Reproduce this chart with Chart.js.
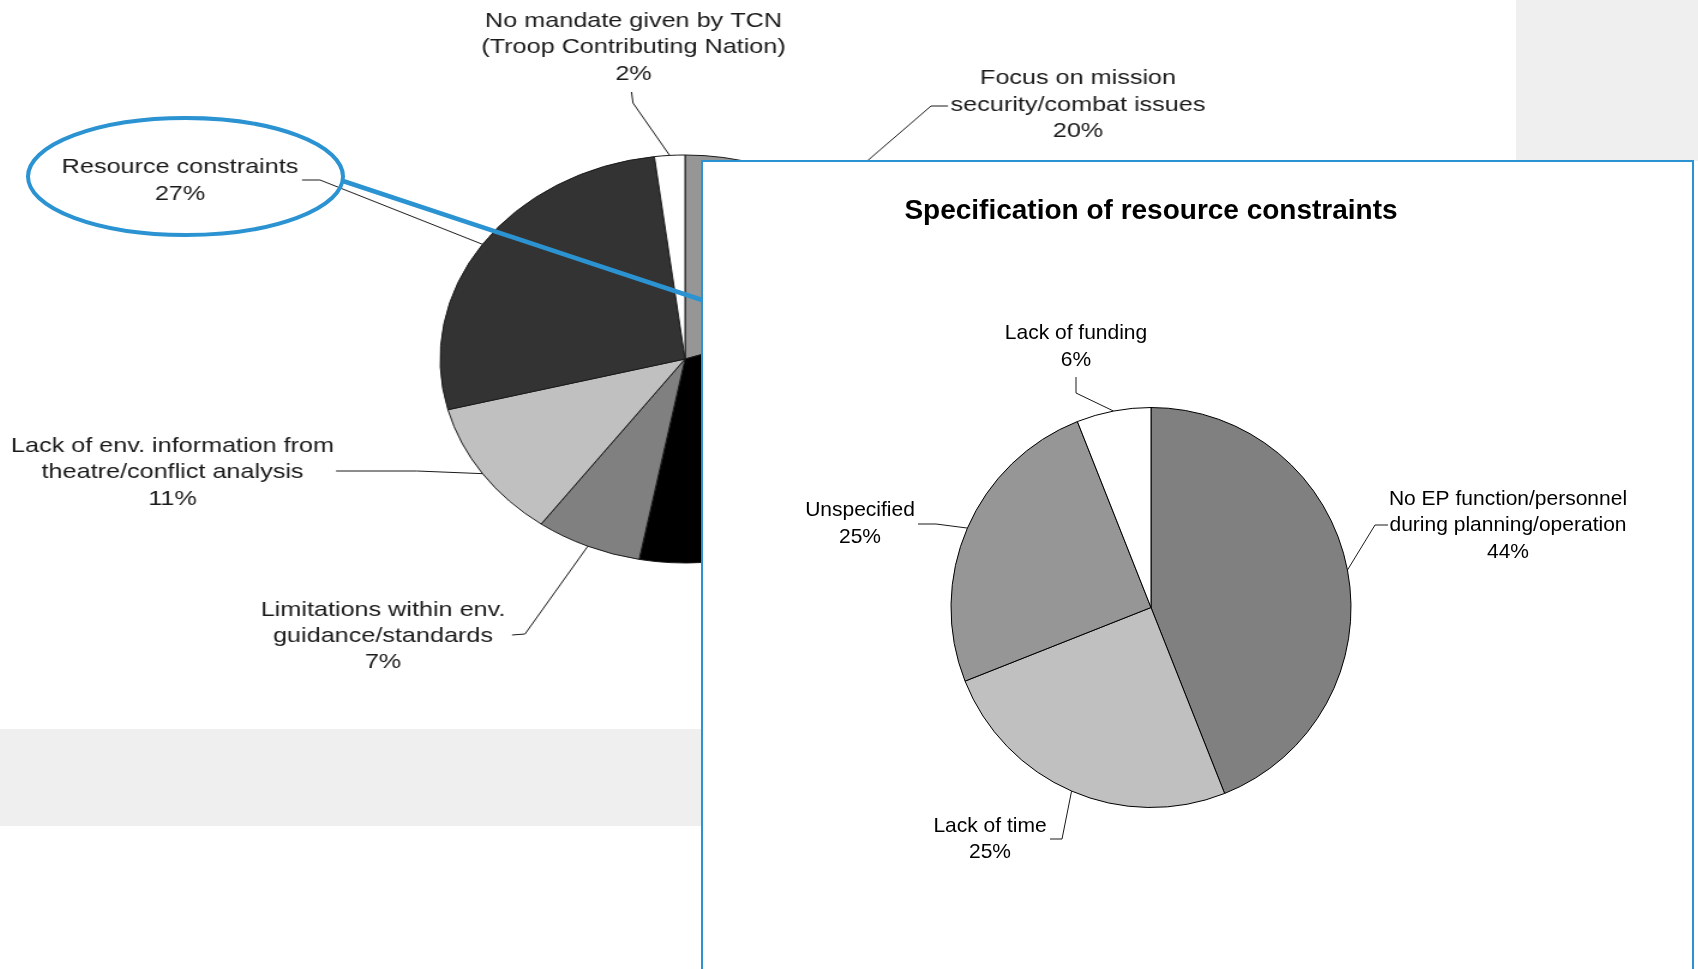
<!DOCTYPE html>
<html>
<head>
<meta charset="utf-8">
<script src="https://cdn.jsdelivr.net/npm/chart.js@4.4.1/dist/chart.umd.min.js"></script>
<style>
  html, body { margin: 0; padding: 0; background: #ffffff; }
  body { width: 1698px; height: 969px; overflow: hidden; position: relative; font-family: "Liberation Sans", Arial, sans-serif; }
  #greyRight { position: absolute; left: 1516px; top: 0; width: 182px; height: 161px; background: #efefef; z-index: 0; }
  #greyBand { position: absolute; left: 0; top: 729px; width: 702px; height: 97px; background: #efefef; z-index: 0; }
  #mainWrap { position: absolute; left: 115px; top: 0; width: 1100px; height: 728px; transform: scaleX(1.2); transform-origin: 570px 0; z-index: 1; }
  #annot { position: absolute; left: 0; top: 0; width: 1698px; height: 969px; z-index: 2; pointer-events: none; }
  #insetBox { position: absolute; left: 701px; top: 160px; width: 989px; height: 820px; border: 2px solid #2b93d1; background: #ffffff; overflow: hidden; z-index: 3; }
  #insetWrap { position: absolute; left: -42px; top: 0; width: 980px; height: 850px; }
</style>
</head>
<body>
<div id="greyRight"></div>
<div id="greyBand"></div>
<div id="mainWrap"><canvas id="mainChart" width="1100" height="728"></canvas></div>
<svg id="annot" width="1698" height="969">
  <ellipse cx="185.5" cy="176.5" rx="157.5" ry="58.5" fill="none" stroke="#2b93d1" stroke-width="4"/>
  <line x1="343" y1="181" x2="702" y2="300" stroke="#2b93d1" stroke-width="4.5"/>
</svg>
<div id="insetBox"><div id="insetWrap"><canvas id="insetChart" width="980" height="850"></canvas></div></div>

<script>
// ---------------- DATA ----------------
const mainCategories = [
  'Focus on mission security/combat issues',
  'Other reasons (covered by inset)',
  'Limitations within env. guidance/standards',
  'Lack of env. information from theatre/conflict analysis',
  'Resource constraints',
  'No mandate given by TCN (Troop Contributing Nation)'
];
const mainValues = [20, 33, 7, 11, 27, 2];
const mainLabelLines = [
  ['Focus on mission', 'security/combat issues'],
  null,
  ['Limitations within env.', 'guidance/standards'],
  ['Lack of env. information from', 'theatre/conflict analysis'],
  ['Resource constraints'],
  ['No mandate given by TCN', '(Troop Contributing Nation)']
];

const insetTitle = 'Specification of resource constraints';
const insetCategories = [
  'No EP function/personnel during planning/operation',
  'Lack of time',
  'Unspecified',
  'Lack of funding'
];
const insetValues = [44, 25, 25, 6];
const insetLabelLines = [
  ['No EP function/personnel', 'during planning/operation'],
  ['Lack of time'],
  ['Unspecified'],
  ['Lack of funding']
];

// ---------------- STYLES / LAYOUT ----------------
const mainColors = ['#969696', '#000000', '#808080', '#c0c0c0', '#333333', '#ffffff'];
const insetColors = ['#808080', '#c0c0c0', '#969696', '#ffffff'];
const FONT = '"Liberation Sans", Arial, sans-serif';

const MAIN_PAGE_CX = 685;   // page x of main pie centre (after stretch)
const MAIN_STRETCH = 1.2;
const MAIN_TOP = 0;
// label layouts in page coordinates
const mainLabelLayout = [
  { tx: 1078, ty: [78.5, 105, 131.5], path: [[948, 106], [931, 106]] },
  null,
  { tx: 383, ty: [610, 636.5, 662], path: [[512, 635], [525, 634]] },
  { tx: 172.5, ty: [446, 472.5, 499], path: [[336, 471], [417, 471]] },
  { tx: 180, ty: [167, 194], path: [[302, 180], [320, 180]] },
  { tx: 633.5, ty: [21, 47.5, 74], path: [[631.5, 92], [633, 103]] }
];

const INSET_LEFT = 661, INSET_TOP = 162;
const insetLabelLayout = [
  { tx: 1508, ty: [499, 525.5, 552], path: [[1388, 525], [1375, 525]] },
  { tx: 990, ty: [826, 852.5], path: [[1050, 839], [1062, 839]] },
  { tx: 860, ty: [510.5, 537], path: [[918, 524], [936, 524]] },
  { tx: 1076, ty: [333, 360], path: [[1076, 377], [1076, 393]] }
];

function makeLabelPlugin(id, lines, values, layout, toCanvas, fontSize, color) {
  return {
    id: id,
    afterDatasetsDraw(chart) {
      const ctx = chart.ctx;
      const meta = chart.getDatasetMeta(0);
      ctx.save();
      meta.data.forEach((el, i) => {
        const lay = layout[i];
        if (!lay || !lines[i]) return;
        const p = el.getProps(['x', 'y', 'startAngle', 'endAngle', 'outerRadius'], true);
        const mid = (p.startAngle + p.endAngle) / 2;
        const ex = p.x + Math.cos(mid) * p.outerRadius;
        const ey = p.y + Math.sin(mid) * p.outerRadius;
        // leader line
        ctx.beginPath();
        ctx.strokeStyle = '#1a1a1a';
        ctx.lineWidth = 1;
        lay.path.forEach((pt, k) => {
          const c = toCanvas(chart, pt[0], pt[1]);
          if (k === 0) ctx.moveTo(c[0], c[1]); else ctx.lineTo(c[0], c[1]);
        });
        ctx.lineTo(ex, ey);
        ctx.stroke();
        // text
        ctx.fillStyle = color;
        ctx.font = fontSize + 'px ' + FONT;
        ctx.textAlign = 'center';
        ctx.textBaseline = 'middle';
        const all = lines[i].concat([values[i] + '%']);
        all.forEach((t, k) => {
          const c = toCanvas(chart, lay.tx, lay.ty[k]);
          ctx.fillText(t, c[0], c[1]);
        });
      });
      ctx.restore();
    }
  };
}

const mainToCanvas = (chart, X, Y) => {
  const cx = chart.getDatasetMeta(0).data[0].x;
  return [cx + (X - MAIN_PAGE_CX) / MAIN_STRETCH, Y - MAIN_TOP];
};
const insetToCanvas = (chart, X, Y) => [X - INSET_LEFT, Y - INSET_TOP];

new Chart(document.getElementById('mainChart'), {
  type: 'pie',
  data: {
    labels: mainCategories,
    datasets: [{
      data: mainValues,
      backgroundColor: mainColors,
      borderColor: '#1a1a1a',
      borderWidth: 1,
      radius: 204,
      hoverOffset: 0,
      offset: 0
    }]
  },
  options: {
    responsive: false,
    animation: false,
    events: [],
    layout: { padding: { left: 140, right: 100, top: 0, bottom: 10 } },
    plugins: { legend: { display: false }, tooltip: { enabled: false }, title: { display: false } }
  },
  plugins: [makeLabelPlugin('mainLabels', mainLabelLines, mainValues, mainLabelLayout, mainToCanvas, 21, '#1a1a1a')]
});

new Chart(document.getElementById('insetChart'), {
  type: 'pie',
  data: {
    labels: insetCategories,
    datasets: [{
      data: insetValues,
      backgroundColor: insetColors,
      borderColor: '#000000',
      borderWidth: 1,
      radius: 200,
      hoverOffset: 0,
      offset: 0
    }]
  },
  options: {
    responsive: false,
    animation: false,
    events: [],
    layout: { padding: { left: 0, right: 0, top: 0, bottom: 25.1 } },
    plugins: {
      legend: { display: false },
      tooltip: { enabled: false },
      title: {
        display: true,
        text: insetTitle,
        color: '#000000',
        font: { family: FONT, size: 28, weight: 'bold', lineHeight: 1.2 },
        padding: { top: 32.5, bottom: 0 }
      }
    }
  },
  plugins: [makeLabelPlugin('insetLabels', insetLabelLines, insetValues, insetLabelLayout, insetToCanvas, 21, '#000000')]
});
</script>
</body>
</html>
